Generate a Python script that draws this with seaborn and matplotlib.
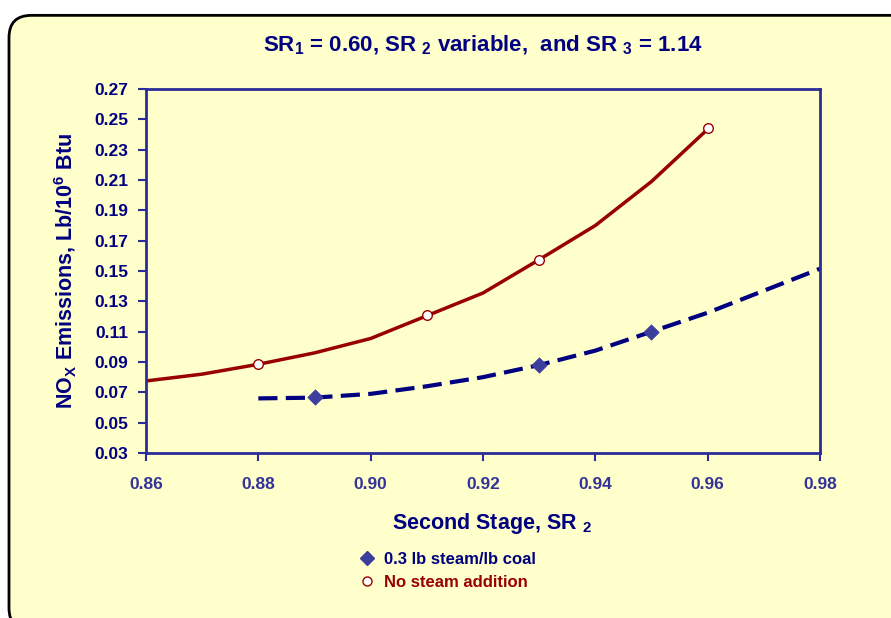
import numpy as np
import pandas as pd
import matplotlib
matplotlib.use("Agg")
import matplotlib.pyplot as plt
from matplotlib.patches import FancyBboxPatch
from matplotlib.lines import Line2D
import seaborn as sns

# ---- data ----
sr2_nosteam_line = [0.86, 0.87, 0.88, 0.89, 0.90, 0.91, 0.92, 0.93, 0.94, 0.95, 0.96]
nox_nosteam_line = [0.0775, 0.082, 0.0885, 0.096, 0.1055, 0.1205, 0.1355, 0.1575, 0.180, 0.209, 0.2435]
sr2_nosteam_pts = [0.88, 0.91, 0.93, 0.96]
nox_nosteam_pts = [0.0885, 0.1210, 0.1575, 0.2445]

sr2_steam_line = [0.88, 0.89, 0.90, 0.91, 0.92, 0.93, 0.94, 0.95, 0.96, 0.97, 0.98]
nox_steam_line = [0.066, 0.0665, 0.069, 0.074, 0.080, 0.088, 0.0975, 0.110, 0.1225, 0.137, 0.1515]
sr2_steam_pts = [0.89, 0.93, 0.95]
nox_steam_pts = [0.0670, 0.0880, 0.1100]

xticks = [0.86, 0.88, 0.90, 0.92, 0.94, 0.96, 0.98]
yticks = [0.03, 0.05, 0.07, 0.09, 0.11, 0.13, 0.15, 0.17, 0.19, 0.21, 0.23, 0.25, 0.27]
legend_labels = ["0.3 lb steam/lb coal", "No steam addition"]

# ---- style ----
sns.set_theme(style="white")
plt.rcParams["font.family"] = ["Liberation Sans", "DejaVu Sans"]
plt.rcParams["font.weight"] = "bold"
plt.rcParams["mathtext.fontset"] = "custom"
plt.rcParams["mathtext.rm"] = "Liberation Sans:bold"
plt.rcParams["mathtext.it"] = "Liberation Sans:bold"
plt.rcParams["mathtext.bf"] = "Liberation Sans:bold"
plt.rcParams["mathtext.default"] = "rm"

BG = "#ffffcc"
NAVY = "#000080"
TICK = "#333399"
AXC = "#2b2b9a"
RED = "#990000"
DIAM = "#3d3d9e"

fig = plt.figure(figsize=(8.91, 6.18), dpi=100)
fig.patch.set_facecolor("white")
frame = FancyBboxPatch((9 / 891, -0.02), 1.05, (603 + 12) / 618,
                       boxstyle="round,pad=0,rounding_size=0.025",
                       transform=fig.transFigure, facecolor=BG,
                       edgecolor="black", linewidth=2, zorder=-10,
                       mutation_aspect=891 / 618)
fig.patches.append(frame)

ax = fig.add_axes([146 / 891, (618 - 453) / 618, (820 - 146) / 891, (453 - 89) / 618])
ax.set_facecolor(BG)

df_ns = pd.DataFrame({"x": sr2_nosteam_line, "y": nox_nosteam_line})
df_s = pd.DataFrame({"x": sr2_steam_line, "y": nox_steam_line})
sns.lineplot(data=df_ns, x="x", y="y", ax=ax, color=RED, linewidth=2.5, sort=True)
sns.lineplot(data=df_s, x="x", y="y", ax=ax, color=NAVY, linewidth=3, sort=True,
             linestyle=(0, (4.6, 2.0)))
sns.scatterplot(x=sr2_steam_pts, y=nox_steam_pts, ax=ax, marker="D", s=60,
                color=DIAM, edgecolor=DIAM, zorder=5)
sns.scatterplot(x=sr2_nosteam_pts, y=nox_nosteam_pts, ax=ax, marker="o", s=48,
                facecolor="white", edgecolor=RED, linewidth=1, zorder=5)

ax.set_xlim(0.86, 0.98)
ax.set_ylim(0.03, 0.27)
ax.set_xticks(xticks)
ax.set_yticks(yticks)
ax.set_xticklabels([f"{v:.2f}" for v in xticks], color=TICK, fontweight="bold")
ax.set_yticklabels([f"{v:.2f}" for v in yticks], color=NAVY, fontweight="bold")
ax.tick_params(axis="both", colors=AXC, labelsize=12.5,
               direction="out", length=6, width=1.5, left=True, bottom=True)
ax.tick_params(axis="x", pad=11, labelcolor=TICK)
ax.tick_params(axis="y", pad=7, labelcolor=NAVY)
for sp in ax.spines.values():
    sp.set_color(AXC)
    sp.set_linewidth(2)
    sp.set_visible(True)

ax.set_xlabel(r"Second Stage, SR $_2$", fontsize=15.5, color=NAVY, fontweight="bold", labelpad=12)
ax.xaxis.set_label_coords(0.513, -0.16)
ax.set_ylabel(r"NO$_{\mathrm{X}}$ Emissions, Lb/10$^6$ Btu", fontsize=15.5, color=NAVY,
              fontweight="bold", labelpad=11)

fig.text(0.542, 0.926, r"SR$_1$ = 0.60, SR $_2$ variable,  and SR $_3$ = 1.14",
         ha="center", va="center", fontsize=16, color=NAVY, fontweight="bold")

handles = [
    Line2D([], [], linestyle="none", marker="D", markersize=7.5, color=DIAM, markeredgecolor=DIAM),
    Line2D([], [], linestyle="none", marker="o", markersize=6.5, markerfacecolor="white",
           markeredgecolor=RED, markeredgewidth=1),
]
leg = fig.legend(handles, legend_labels, loc="upper left",
                 bbox_to_anchor=(342 / 891, 1 - 537 / 618), frameon=False,
                 handletextpad=0.4, labelspacing=0.5,
                 handlelength=1.2, labelcolor=[NAVY, RED], prop={"weight": "bold", "size": 12})

fig.savefig("out.png", dpi=100, facecolor=fig.get_facecolor())
